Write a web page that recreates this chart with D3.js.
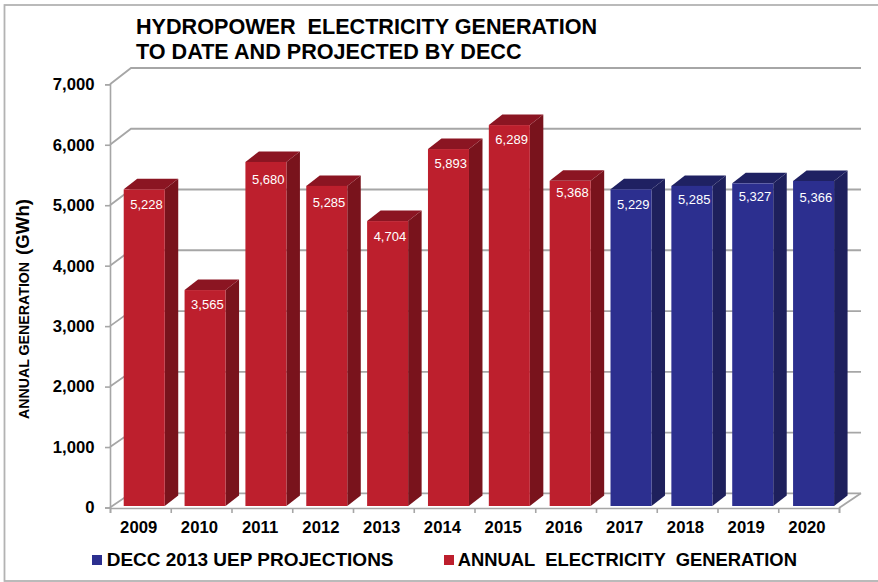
<!DOCTYPE html>
<html>
<head>
<meta charset="utf-8">
<script src="https://d3js.org/d3.v7.min.js"></script>
<style>
  html, body { margin: 0; padding: 0; background: #fff; overflow: hidden; }
  svg { display: block; font-family: "Liberation Sans", Arial, sans-serif; }
  text { white-space: pre; }
  .axis path, .axis line { stroke: #a6a6a6; stroke-width: 1.6; }
  .axis text { font-size: 16.7px; font-weight: bold; fill: #000; }
</style>
</head>
<body>
<div id="chart"></div>
<script>
var years = ['2009', '2010', '2011', '2012', '2013', '2014', '2015', '2016', '2017', '2018', '2019', '2020'];
var generation = [5228, 3565, 5680, 5285, 4704, 5893, 6289, 5368, 5229, 5285, 5327, 5366];
var seriesOf = ['actual', 'actual', 'actual', 'actual', 'actual', 'actual', 'actual', 'actual', 'uep', 'uep', 'uep', 'uep'];
var yTicks = [0, 1000, 2000, 3000, 4000, 5000, 6000, 7000];
var titleLines = ['HYDROPOWER  ELECTRICITY GENERATION', 'TO DATE AND PROJECTED BY DECC'];
var legendLabels = ['DECC 2013 UEP PROJECTIONS', 'ANNUAL  ELECTRICITY  GENERATION'];

var width = 878, height = 582;
var colors = {
  actual: { front: '#bd1f2d', side: '#79131c', top: '#8b1522' },
  uep: { front: '#2c2f8f', side: '#1e205c', top: '#1f2162' }
};

var wallDx = 21;
var barDx = 13.5, barDy = -10.5;
// labels in the original are not set at one fixed distance under the bar top
var labelNudge = [1, 0, 3, 2, 1, 0, 0, -3, 1, -1, -1, 2];

var svg = d3.select('#chart').append('svg')
  .attr('width', width)
  .attr('height', height);

svg.append('rect')
  .attr('x', 4.5).attr('y', 5)
  .attr('width', 880).attr('height', 576)
  .attr('fill', '#fff')
  .attr('stroke', '#b3b3b3')
  .attr('stroke-width', 1.8);

var x = d3.scaleBand().domain(years).range([110, 839]);
// bars stand a little way in from the front of the floor, so own scales for them
var xBar = d3.scaleBand().domain(years).range([113.8, 844]).paddingInner(0.326).paddingOuter(0.163);
var y = d3.scaleLinear().domain([0, 7000]).range([507.5, 84.3]);
var yBack = d3.scaleLinear().domain([0, 7000]).range([493.3, 68]);
var yBar = d3.scaleLinear().domain([0, 7000]).range([506, 82]);

// back wall + left wall gridlines
var grid = svg.append('g').attr('fill', 'none').attr('stroke', '#a6a6a6').attr('stroke-width', 1.8);
grid.selectAll('path').data(yTicks).enter().append('path')
  .attr('d', function(d) {
    var p = d3.path();
    p.moveTo(110, y(d));
    p.lineTo(110 + wallDx, yBack(d));
    p.lineTo(839 + wallDx + 1, yBack(d));
    return p.toString();
  });
// floor right edge
grid.append('line')
  .attr('x1', 839).attr('y1', 508)
  .attr('x2', 839 + wallDx + 1).attr('y2', yBack(0));

var line = d3.line();
var bars = svg.append('g').selectAll('g').data(years).enter().append('g');

bars.append('path')
  .attr('fill', function(d, i) { return colors[seriesOf[i]].side; })
  .attr('d', function(d, i) {
    var r = xBar(d) + xBar.bandwidth();
    return line([[r, yBar(generation[i])], [r + barDx, yBar(generation[i]) + barDy], [r + barDx, yBar(0) + barDy], [r, yBar(0)]]) + 'Z';
  });
bars.append('path')
  .attr('fill', function(d, i) { return colors[seriesOf[i]].top; })
  .attr('d', function(d, i) {
    var l = xBar(d), r = l + xBar.bandwidth(), t = yBar(generation[i]);
    return line([[l, t], [l + barDx, t + barDy], [r + barDx, t + barDy], [r, t]]) + 'Z';
  });
bars.append('rect')
  .attr('x', function(d) { return xBar(d); })
  .attr('y', function(d, i) { return yBar(generation[i]); })
  .attr('width', xBar.bandwidth())
  .attr('height', function(d, i) { return yBar(0) - yBar(generation[i]); })
  .attr('fill', function(d, i) { return colors[seriesOf[i]].front; });

bars.append('text')
  .attr('x', function(d) { return xBar(d) + xBar.bandwidth() / 2 + 2.3; })
  .attr('y', function(d, i) { return yBar(generation[i]) + 19 + labelNudge[i]; })
  .attr('text-anchor', 'middle')
  .attr('font-size', 13)
  .attr('fill', '#fff')
  .text(function(d, i) { return d3.format(',')(generation[i]); });

var yAxis = d3.axisLeft(y).tickValues(yTicks).tickSize(5).tickPadding(10.5).tickFormat(d3.format(','));
svg.append('g').attr('class', 'axis').attr('transform', 'translate(110,0)').call(yAxis);

// x axis ticks sit on the band edges, labels on the band centre
var xAxis = d3.axisBottom(d3.scalePoint().domain(d3.range(13)).range([110, 839]))
  .tickSize(5).tickFormat('');
svg.append('g').attr('class', 'axis').attr('transform', 'translate(0,508)').call(xAxis);

svg.append('g').selectAll('text').data(years).enter().append('text')
  .attr('x', function(d) { return x(d) + x.bandwidth() / 2 - 1.7; })
  .attr('y', 533)
  .attr('text-anchor', 'middle')
  .attr('font-size', 16.7)
  .attr('font-weight', 'bold')
  .text(function(d) { return d; });

svg.append('g').selectAll('text').data(titleLines).enter().append('text')
  .attr('x', 136)
  .attr('y', function(d, i) { return 33.5 + i * 25; })
  .attr('font-size', 21.6)
  .attr('font-weight', 'bold')
  .text(function(d) { return d; });

var yTitle = svg.append('text')
  .attr('transform', 'translate(29,419) rotate(-90)')
  .attr('text-anchor', 'start')
  .attr('font-weight', 'bold')
  .attr('font-size', 14.2);
yTitle.append('tspan').text('ANNUAL GENERATION ');
yTitle.append('tspan').attr('dx', 3).attr('font-size', 18.7).text('(GWh)');

var legend = svg.append('g');
var legendX = [92, 444], legendSize = [19, 18.4], legendKeys = ['uep', 'actual'];
legendLabels.forEach(function(label, i) {
  legend.append('rect')
    .attr('x', legendX[i]).attr('y', 555)
    .attr('width', 10).attr('height', 10)
    .attr('fill', colors[legendKeys[i]].front);
  legend.append('text')
    .attr('x', legendX[i] + 14.7 - i).attr('y', 566)
    .attr('font-size', legendSize[i])
    .attr('font-weight', 'bold')
    .text(label);
});
</script>
</body>
</html>
